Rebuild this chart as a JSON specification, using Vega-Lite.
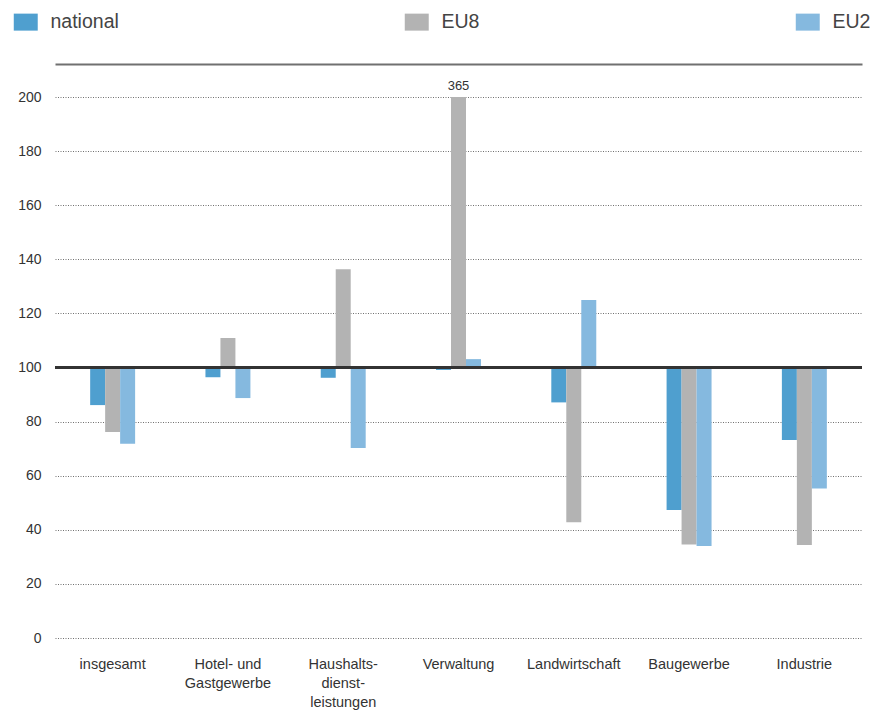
{
  "$schema": "https://vega.github.io/schema/vega-lite/v6.json",
  "width": 807,
  "height": 541,
  "autosize": {"type": "none"},
  "padding": {"left": 55, "top": 97, "right": 13, "bottom": 75},
  "background": "white",
  "config": {
    "font": "Liberation Sans",
    "view": {"stroke": null},
    "axis": {"labelFont": "Liberation Sans", "labelColor": "#333333"}
  },
  "data": {
    "values": [
      {"sector": "insgesamt", "series": "national", "value": 86.1},
      {"sector": "insgesamt", "series": "EU8", "value": 76.2},
      {"sector": "insgesamt", "series": "EU2", "value": 71.8},
      {"sector": "Hotel- und\nGastgewerbe", "series": "national", "value": 96.4},
      {"sector": "Hotel- und\nGastgewerbe", "series": "EU8", "value": 110.9},
      {"sector": "Hotel- und\nGastgewerbe", "series": "EU2", "value": 88.7},
      {"sector": "Haushalts-\ndienst-\nleistungen", "series": "national", "value": 96.2},
      {"sector": "Haushalts-\ndienst-\nleistungen", "series": "EU8", "value": 136.3},
      {"sector": "Haushalts-\ndienst-\nleistungen", "series": "EU2", "value": 70.2},
      {"sector": "Verwaltung", "series": "national", "value": 99.1},
      {"sector": "Verwaltung", "series": "EU8", "value": 365},
      {"sector": "Verwaltung", "series": "EU2", "value": 103.1},
      {"sector": "Landwirtschaft", "series": "national", "value": 87.1},
      {"sector": "Landwirtschaft", "series": "EU8", "value": 42.8},
      {"sector": "Landwirtschaft", "series": "EU2", "value": 125},
      {"sector": "Baugewerbe", "series": "national", "value": 47.3},
      {"sector": "Baugewerbe", "series": "EU8", "value": 34.6},
      {"sector": "Baugewerbe", "series": "EU2", "value": 34.0},
      {"sector": "Industrie", "series": "national", "value": 73.2},
      {"sector": "Industrie", "series": "EU8", "value": 34.4},
      {"sector": "Industrie", "series": "EU2", "value": 55.3}
    ]
  },
  "layer": [
    {
      "mark": {"type": "bar", "clip": true},
      "encoding": {
        "x": {
          "field": "sector",
          "type": "nominal",
          "sort": null,
          "title": null,
          "scale": {"paddingInner": 0.61, "paddingOuter": 0.305},
          "axis": {
            "orient": "bottom",
            "domain": false,
            "ticks": false,
            "grid": false,
            "labelAngle": 0,
            "labelFontSize": 14.5,
            "labelPadding": 19,
            "labelLineHeight": 19,
            "labelBaseline": "top",
            "labelExpr": "split(datum.label, '\\n')"
          }
        },
        "xOffset": {
          "field": "series",
          "type": "nominal",
          "sort": ["national", "EU8", "EU2"]
        },
        "y": {
          "field": "value",
          "type": "quantitative",
          "title": null,
          "scale": {"domain": [0, 200], "nice": false, "zero": true},
          "axis": {
            "values": [0, 20, 40, 60, 80, 100, 120, 140, 160, 180, 200],
            "domain": false,
            "ticks": false,
            "labelFontSize": 14,
            "labelPadding": 14,
            "gridColor": "#707070",
            "gridDash": [1, 1.5],
            "gridWidth": 1
          }
        },
        "y2": {"datum": 100},
        "color": {
          "field": "series",
          "type": "nominal",
          "sort": ["national", "EU8", "EU2"],
          "scale": {
            "domain": ["national", "EU8", "EU2"],
            "range": ["#4f9fcf", "#b3b3b3", "#85b9df"]
          },
          "legend": {
            "title": null,
            "orient": "none",
            "legendX": -39,
            "legendY": -85,
            "direction": "horizontal",
            "columns": 3,
            "gridAlign": "all",
            "columnPadding": 285,
            "padding": 0,
            "symbolType": "M-1.41,-1H1.41V1H-1.41Z",
            "symbolSize": 289,
            "symbolStrokeWidth": 0,
            "symbolOpacity": 1,
            "labelOffset": 15,
            "labelFontSize": 19.5,
            "labelColor": "#444444",
            "labelFont": "Liberation Sans"
          }
        }
      }
    },
    {
      "transform": [{"filter": "datum.value > 200"}],
      "mark": {"type": "text", "baseline": "bottom", "dy": -4, "fontSize": 13, "color": "#333333"},
      "encoding": {
        "x": {"field": "sector", "type": "nominal", "sort": null, "axis": null},
        "xOffset": {"field": "series", "type": "nominal", "sort": ["national", "EU8", "EU2"]},
        "y": {"datum": 200},
        "text": {"field": "value", "type": "quantitative"}
      }
    },
    {
      "mark": {"type": "rule", "color": "#333333", "strokeWidth": 2},
      "encoding": {
        "y": {"datum": 100}
      }
    },
    {
      "mark": {"type": "rule", "opacity": 0},
      "encoding": {
        "x": {
          "field": "sector",
          "type": "nominal",
          "sort": null,
          "title": null,
          "axis": {
            "orient": "top",
            "offset": 33,
            "labels": false,
            "ticks": false,
            "grid": false,
            "domain": true,
            "domainColor": "#707070",
            "domainWidth": 2
          }
        }
      }
    }
  ],
  "resolve": {"axis": {"x": "independent"}}
}
